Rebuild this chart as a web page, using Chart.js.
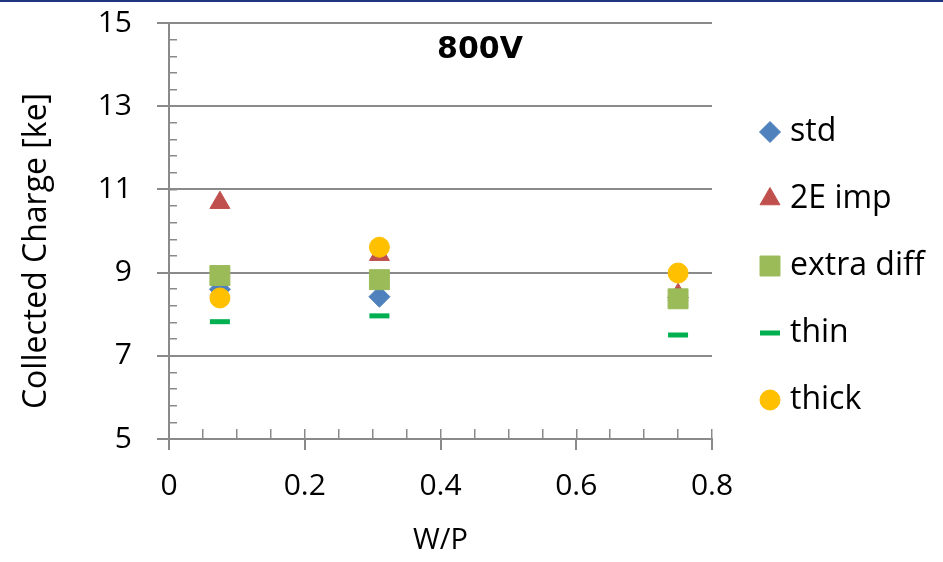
<!DOCTYPE html>
<html>
<head>
<meta charset="utf-8">
<title>Collected Charge vs W/P - 800V</title>
<script src="https://cdn.jsdelivr.net/npm/chart.js"></script>
<style>
  html, body { margin: 0; padding: 0; background: #fff; }
  #wrap { position: relative; width: 943px; height: 562px; }
</style>
</head>
<body>
<div id="wrap"><canvas id="chargeChart"></canvas></div>
<script>
// W/P of the three structures
const wp = [0.075, 0.31, 0.75];

// collected charge [ke] at 800V, one array per variant
const stdCharge = [8.6, 8.42, 8.4];
const imp2ECharge = [10.68, 9.43, 8.47];
const extraDiffCharge = [8.93, 8.83, 8.37];
const thinCharge = [7.82, 7.96, 7.5];
const thickCharge = [8.39, 9.61, 8.99];

const seriesNames = ['std', '2E imp', 'extra diff', 'thin', 'thick'];
const seriesData = [stdCharge, imp2ECharge, extraDiffCharge, thinCharge, thickCharge];

const biasLabel = '800V';
const xTitle = 'W/P';
const yTitle = 'Collected Charge [ke]';

const axisGray = '#8a8a8a';
const textFont = "'Open Sans', sans-serif";

// marker look for each series (same order as seriesNames)
const seriesStyles = [
  { color: '#4f81bd', pointStyle: 'rectRot', radius: 10.5, border: 1 },
  { color: '#c0504d', pointStyle: 'triangle', radius: 11.5, border: 1 },
  { color: '#9bbb59', pointStyle: 'rect', radius: 14.1, border: 1 },
  { color: '#00b050', pointStyle: 'line', radius: 10, border: 5 },
  { color: '#ffc000', pointStyle: 'circle', radius: 10, border: 1 }
];

function toPoints(ys) {
  return ys.map((y, i) => ({ x: wp[i], y: y }));
}

const datasets = seriesNames.map((name, i) => {
  const st = seriesStyles[i];
  return {
    label: name,
    data: toPoints(seriesData[i]),
    showLine: false,
    pointStyle: st.pointStyle,
    pointRadius: st.radius,
    pointBackgroundColor: st.color,
    pointBorderColor: st.color,
    pointBorderWidth: st.border,
    // later series sit on top
    order: seriesNames.length - 1 - i
  };
});

// title, rotated y title, legend and the thin bar along the top
const decorations = {
  id: 'decorations',
  beforeDraw(chart) {
    const ctx = chart.ctx;
    ctx.save();
    ctx.fillStyle = '#fff';
    ctx.fillRect(0, 0, chart.width, chart.height);
    ctx.fillStyle = '#1f3580';
    ctx.fillRect(0, 0, chart.width, 2);
    ctx.restore();
  },
  afterDraw(chart) {
    const ctx = chart.ctx;
    ctx.save();
    ctx.fillStyle = '#000';

    ctx.font = "bold 30px 'DejaVu Sans'";
    ctx.textAlign = 'center';
    ctx.textBaseline = 'middle';
    ctx.fillText(biasLabel, 480, 50);

    ctx.save();
    ctx.translate(37, 251);
    ctx.rotate(-Math.PI / 2);
    ctx.font = '32px ' + textFont;
    ctx.fillText(yTitle, 0, 0);
    ctx.restore();

    // legend
    ctx.font = '32px ' + textFont;
    ctx.textAlign = 'left';
    seriesNames.forEach((name, i) => {
      const st = seriesStyles[i];
      const y = 132 + i * 67;
      ctx.fillStyle = st.color;
      ctx.strokeStyle = st.color;
      ctx.lineWidth = st.border;
      Chart.helpers.drawPoint(ctx, {
        pointStyle: st.pointStyle,
        radius: st.radius,
        rotation: 0,
        borderWidth: st.border
      }, 770, y);
      ctx.fillStyle = '#000';
      ctx.fillText(name, 790, y);
    });
    ctx.restore();
  }
};

new Chart(document.getElementById('chargeChart'), {
  type: 'scatter',
  data: { datasets: datasets },
  plugins: [decorations],
  options: {
    responsive: true,
    maintainAspectRatio: false,
    animation: false,
    events: [],
    layout: { padding: { top: 23, right: 231, bottom: 0, left: 0 } },
    plugins: {
      legend: { display: false },
      tooltip: { enabled: false }
    },
    scales: {
      x: {
        type: 'linear',
        position: 'bottom',
        weight: 1,
        min: 0,
        max: 0.8,
        ticks: {
          stepSize: 0.2,
          color: '#000',
          font: { family: textFont, size: 30 },
          padding: 18,
          maxRotation: 0,
          autoSkip: false
        },
        grid: { drawOnChartArea: false, tickLength: 11, color: axisGray, lineWidth: 2 },
        border: { display: true, color: axisGray, width: 2 },
        title: {
          display: true,
          text: xTitle,
          color: '#000',
          font: { family: textFont, size: 29 },
          padding: { top: 0, bottom: 4 }
        },
        afterFit(s) { s.height = 123; }
      },
      // minor ticks on the x axis, pointing into the plot
      xMinor: {
        type: 'linear',
        position: 'bottom',
        weight: 0,
        min: 0,
        max: 0.8,
        ticks: { display: false, stepSize: 0.05, autoSkip: false },
        grid: { drawOnChartArea: false, tickLength: -10, color: axisGray, lineWidth: 1.5 },
        border: { display: false },
        afterFit(s) { s.height = 0; }
      },
      y: {
        type: 'linear',
        position: 'left',
        weight: 1,
        min: 5,
        max: 15,
        ticks: {
          stepSize: 2,
          color: '#000',
          font: { family: textFont, size: 30 },
          padding: 25
        },
        grid: { drawOnChartArea: true, tickLength: 12, color: axisGray, lineWidth: 2 },
        border: { display: true, color: axisGray, width: 2 },
        afterFit(s) {
          s.width = 169;
          // the top label may sit above the plot; layout padding covers it
          s.paddingTop = 0;
          s.paddingBottom = 0;
        }
      },
      // minor ticks on the y axis, pointing into the plot
      yMinor: {
        type: 'linear',
        position: 'left',
        weight: 0,
        min: 5,
        max: 15,
        ticks: { display: false, stepSize: 0.4, autoSkip: false },
        grid: { drawOnChartArea: false, tickLength: -8, color: axisGray, lineWidth: 1.5 },
        border: { display: false },
        afterFit(s) { s.width = 0; }
      }
    }
  }
});
</script>
</body>
</html>
